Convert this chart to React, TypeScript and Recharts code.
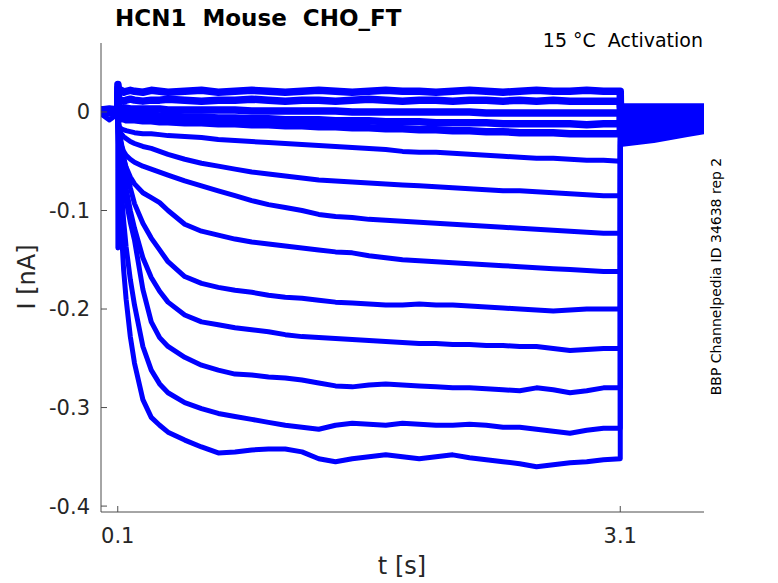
import React from 'react';
import { LineChart, Line, XAxis, YAxis } from 'recharts';

// time grid [s]
const T = [0, 0.05, 0.1, 0.101, 0.105, 0.11, 0.12, 0.135, 0.15, 0.175, 0.2, 0.25, 0.3, 0.35, 0.4, 0.5, 0.6, 0.7, 0.8, 0.9, 1.0, 1.1, 1.2, 1.3, 1.4, 1.5, 1.6, 1.7, 1.8, 1.9, 2.0, 2.1, 2.2, 2.3, 2.4, 2.5, 2.6, 2.7, 2.8, 2.9, 3.0, 3.1, 3.101, 3.2, 3.3, 3.4, 3.5, 3.6];

// current traces [nA], one per voltage step
const S0 = [0.002, 0.003, 0.002, 0.028, 0.022, 0.021, 0.022, 0.02, 0.021, 0.022, 0.021, 0.02, 0.022, 0.021, 0.02, 0.021, 0.022, 0.02, 0.021, 0.022, 0.021, 0.02, 0.021, 0.022, 0.021, 0.02, 0.021, 0.022, 0.021, 0.021, 0.02, 0.021, 0.022, 0.021, 0.02, 0.021, 0.022, 0.021, 0.021, 0.022, 0.021, 0.021, 0.005, 0.005, 0.005, 0.005, 0.005, 0.005];
const S1 = [0.002, 0.002, 0.002, 0.024, 0.013, 0.012, 0.012, 0.011, 0.012, 0.013, 0.012, 0.011, 0.012, 0.012, 0.013, 0.012, 0.011, 0.012, 0.012, 0.013, 0.012, 0.011, 0.012, 0.012, 0.011, 0.012, 0.013, 0.012, 0.011, 0.012, 0.012, 0.011, 0.012, 0.012, 0.011, 0.012, 0.011, 0.012, 0.011, 0.011, 0.011, 0.011, 0.003, 0.003, 0.003, 0.003, 0.003, 0.003];
const S2 = [0.001, 0.002, 0.001, 0.018, 0.006, 0.004, 0.004, 0.004, 0.004, 0.003, 0.003, 0.003, 0.003, 0.003, 0.002, 0.002, 0.002, 0.002, 0.002, 0.001, 0.001, 0.001, 0.001, 0.001, 0.001, 0, 0, 0, 0, 0, 0, 0, 0, -0.001, -0.001, -0.001, -0.001, -0.001, -0.001, -0.001, -0.001, -0.001, 0.002, 0.002, 0.002, 0.001, 0.001, 0.001];
const S3 = [0.001, 0.001, 0.001, 0.012, 0.002, -0.001, -0.001, -0.002, -0.002, -0.002, -0.003, -0.003, -0.003, -0.004, -0.004, -0.005, -0.005, -0.006, -0.006, -0.007, -0.007, -0.008, -0.008, -0.008, -0.009, -0.009, -0.009, -0.01, -0.01, -0.01, -0.011, -0.011, -0.011, -0.011, -0.012, -0.012, -0.012, -0.012, -0.012, -0.013, -0.012, -0.012, -0.001, -0.001, -0.001, -0.001, -0.001, -0.001];
const S4 = [0.001, 0.0, 0.001, 0.005, -0.003, -0.006, -0.007, -0.007, -0.008, -0.008, -0.008, -0.009, -0.009, -0.01, -0.01, -0.011, -0.011, -0.012, -0.012, -0.013, -0.013, -0.014, -0.014, -0.015, -0.015, -0.016, -0.016, -0.017, -0.017, -0.018, -0.018, -0.019, -0.019, -0.02, -0.02, -0.021, -0.021, -0.021, -0.022, -0.022, -0.022, -0.022, -0.004, -0.004, -0.003, -0.003, -0.003, -0.003];
const S5 = [0, 0, 0, -0.004, -0.01, -0.015, -0.017, -0.018, -0.019, -0.02, -0.021, -0.022, -0.022, -0.023, -0.024, -0.025, -0.026, -0.028, -0.029, -0.03, -0.031, -0.032, -0.033, -0.034, -0.035, -0.036, -0.037, -0.038, -0.04, -0.041, -0.041, -0.042, -0.043, -0.044, -0.045, -0.046, -0.047, -0.047, -0.048, -0.049, -0.049, -0.05, -0.008, -0.007, -0.007, -0.006, -0.006, -0.005];
const S6 = [0, -0.001, 0, -0.005, -0.012, -0.018, -0.022, -0.025, -0.027, -0.03, -0.032, -0.035, -0.037, -0.04, -0.043, -0.048, -0.052, -0.055, -0.058, -0.061, -0.063, -0.065, -0.067, -0.069, -0.07, -0.071, -0.072, -0.073, -0.074, -0.075, -0.076, -0.077, -0.078, -0.079, -0.08, -0.08, -0.081, -0.082, -0.083, -0.084, -0.085, -0.085, -0.011, -0.01, -0.009, -0.008, -0.008, -0.007];
const S7 = [0, 0, -0.001, -0.006, -0.015, -0.025, -0.033, -0.04, -0.044, -0.048, -0.051, -0.055, -0.058, -0.061, -0.064, -0.07, -0.075, -0.08, -0.085, -0.09, -0.094, -0.097, -0.1, -0.104, -0.106, -0.107, -0.109, -0.11, -0.111, -0.112, -0.113, -0.114, -0.115, -0.116, -0.117, -0.118, -0.119, -0.12, -0.121, -0.122, -0.123, -0.123, -0.014, -0.013, -0.012, -0.011, -0.01, -0.009];
const S8 = [-0.001, 0, -0.001, -0.008, -0.02, -0.03, -0.038, -0.048, -0.056, -0.066, -0.073, -0.082, -0.087, -0.092, -0.1, -0.114, -0.121, -0.125, -0.129, -0.132, -0.134, -0.136, -0.138, -0.14, -0.142, -0.143, -0.146, -0.148, -0.15, -0.151, -0.152, -0.153, -0.154, -0.155, -0.156, -0.157, -0.158, -0.159, -0.16, -0.161, -0.162, -0.162, -0.017, -0.016, -0.015, -0.013, -0.012, -0.011];
const S9 = [-0.001, -0.001, 0, -0.01, -0.015, -0.02, -0.03, -0.045, -0.058, -0.077, -0.093, -0.113, -0.128, -0.14, -0.152, -0.167, -0.174, -0.178, -0.181, -0.183, -0.186, -0.188, -0.189, -0.191, -0.193, -0.194, -0.195, -0.196, -0.196, -0.195, -0.196, -0.196, -0.197, -0.198, -0.199, -0.2, -0.201, -0.202, -0.201, -0.2, -0.2, -0.2, -0.02, -0.019, -0.017, -0.016, -0.014, -0.013];
const S10 = [-0.001, -0.002, -0.001, -0.012, -0.018, -0.025, -0.04, -0.06, -0.078, -0.1, -0.118, -0.148, -0.168, -0.182, -0.193, -0.206, -0.213, -0.216, -0.219, -0.221, -0.223, -0.226, -0.228, -0.229, -0.23, -0.231, -0.232, -0.233, -0.234, -0.235, -0.235, -0.236, -0.236, -0.237, -0.237, -0.238, -0.238, -0.24, -0.242, -0.241, -0.24, -0.24, -0.024, -0.022, -0.02, -0.018, -0.016, -0.015];
const S11 = [-0.002, -0.001, -0.002, -0.015, -0.025, -0.035, -0.055, -0.075, -0.09, -0.112, -0.13, -0.18, -0.213, -0.229, -0.238, -0.249, -0.257, -0.262, -0.266, -0.267, -0.269, -0.27, -0.272, -0.275, -0.278, -0.279, -0.277, -0.276, -0.277, -0.278, -0.279, -0.28, -0.28, -0.281, -0.282, -0.283, -0.28, -0.282, -0.285, -0.283, -0.28, -0.28, -0.027, -0.025, -0.023, -0.021, -0.019, -0.017];
const S12 = [-0.002, -0.002, -0.001, -0.02, -0.035, -0.05, -0.075, -0.11, -0.137, -0.17, -0.196, -0.238, -0.262, -0.276, -0.285, -0.295, -0.301, -0.306, -0.309, -0.312, -0.315, -0.318, -0.32, -0.322, -0.318, -0.316, -0.317, -0.318, -0.316, -0.317, -0.318, -0.318, -0.317, -0.318, -0.32, -0.32, -0.322, -0.324, -0.326, -0.323, -0.321, -0.321, -0.03, -0.028, -0.026, -0.023, -0.021, -0.019];
const S13 = [-0.002, -0.008, -0.002, -0.138, -0.06, -0.085, -0.115, -0.16, -0.19, -0.228, -0.255, -0.292, -0.31, -0.318, -0.325, -0.333, -0.34, -0.346, -0.345, -0.343, -0.342, -0.342, -0.345, -0.352, -0.355, -0.352, -0.35, -0.348, -0.35, -0.352, -0.35, -0.348, -0.351, -0.353, -0.355, -0.357, -0.36, -0.358, -0.356, -0.355, -0.353, -0.352, -0.033, -0.031, -0.029, -0.026, -0.023, -0.02];

const SERIES = [S0, S1, S2, S3, S4, S5, S6, S7, S8, S9, S10, S11, S12, S13];
const NEAR_ZERO_COUNT = 5;

const X_TICKS = [0.1, 3.1];
const Y_TICKS = [-0.4, -0.3, -0.2, -0.1, 0];

const TITLE = 'HCN1  Mouse  CHO_FT';
const SUBTITLE = '15 \u00B0C  Activation';
const SIDE_NOTE = 'BBP Channelpedia ID 34638 rep 2';
const X_LABEL = 't [s]';
const Y_LABEL = 'I [nA]';

const rows = T.map((t, i) => {
  const r: Record<string, number> = { t };
  SERIES.forEach((s, k) => {
    r['s' + k] = s[i];
  });
  return r;
});

const FONT = 'DejaVu Sans';
const AXIS_COLOR = '#4d4d4d';
const TEXT_COLOR = '#262626';

export default function App() {
  return (
    <div style={{ position: 'absolute', left: 0, top: 0, width: 778, height: 583, background: '#fff' }}>
      <LineChart width={778} height={583} data={rows} margin={{ top: 43, right: 74, bottom: 41, left: 41 }}>
        <XAxis
          type="number"
          dataKey="t"
          domain={[0, 3.6]}
          ticks={X_TICKS}
          interval={0}
          allowDataOverflow
          height={30}
          tickSize={-6}
          tickMargin={22}
          stroke={AXIS_COLOR}
          tick={{ fill: TEXT_COLOR, fontSize: 21, fontFamily: FONT }}
          tickFormatter={(v: number) => v.toFixed(1)}
        />
        <YAxis
          type="number"
          domain={[-0.406, 0.07]}
          ticks={Y_TICKS}
          interval={0}
          allowDataOverflow
          width={60}
          tickSize={-6}
          tickMargin={17}
          stroke={AXIS_COLOR}
          tick={{ fill: TEXT_COLOR, fontSize: 21, fontFamily: FONT }}
          tickFormatter={(v: number) => String(v)}
        />
        {SERIES.map((_, k) => (
          <Line
            key={k}
            type="linear"
            dataKey={'s' + k}
            stroke="#0000ff"
            strokeWidth={k < NEAR_ZERO_COUNT ? 7.5 : 5}
            strokeLinejoin="round"
            dot={false}
            activeDot={false}
            isAnimationActive={false}
          />
        ))}
      </LineChart>
      <svg width={778} height={583} style={{ position: 'absolute', left: 0, top: 0, pointerEvents: 'none' }}>
        <text x={115} y={26} fontFamily={FONT} fontWeight="bold" fontSize={23} fill="#000" style={{ whiteSpace: 'pre' }}>
          {TITLE}
        </text>
        <text x={703} y={47} textAnchor="end" fontFamily={FONT} fontSize={19} fill="#000" style={{ whiteSpace: 'pre' }}>
          {SUBTITLE}
        </text>
        <text transform="translate(721,276.5) rotate(-90)" textAnchor="middle" fontFamily={FONT} fontSize={14} fill="#000">
          {SIDE_NOTE}
        </text>
        <text transform="translate(35,277) rotate(-90)" textAnchor="middle" fontFamily={FONT} fontSize={24} fill={TEXT_COLOR}>
          {Y_LABEL}
        </text>
        <text x={402} y={574} textAnchor="middle" fontFamily={FONT} fontSize={24} fill={TEXT_COLOR}>
          {X_LABEL}
        </text>
      </svg>
    </div>
  );
}
